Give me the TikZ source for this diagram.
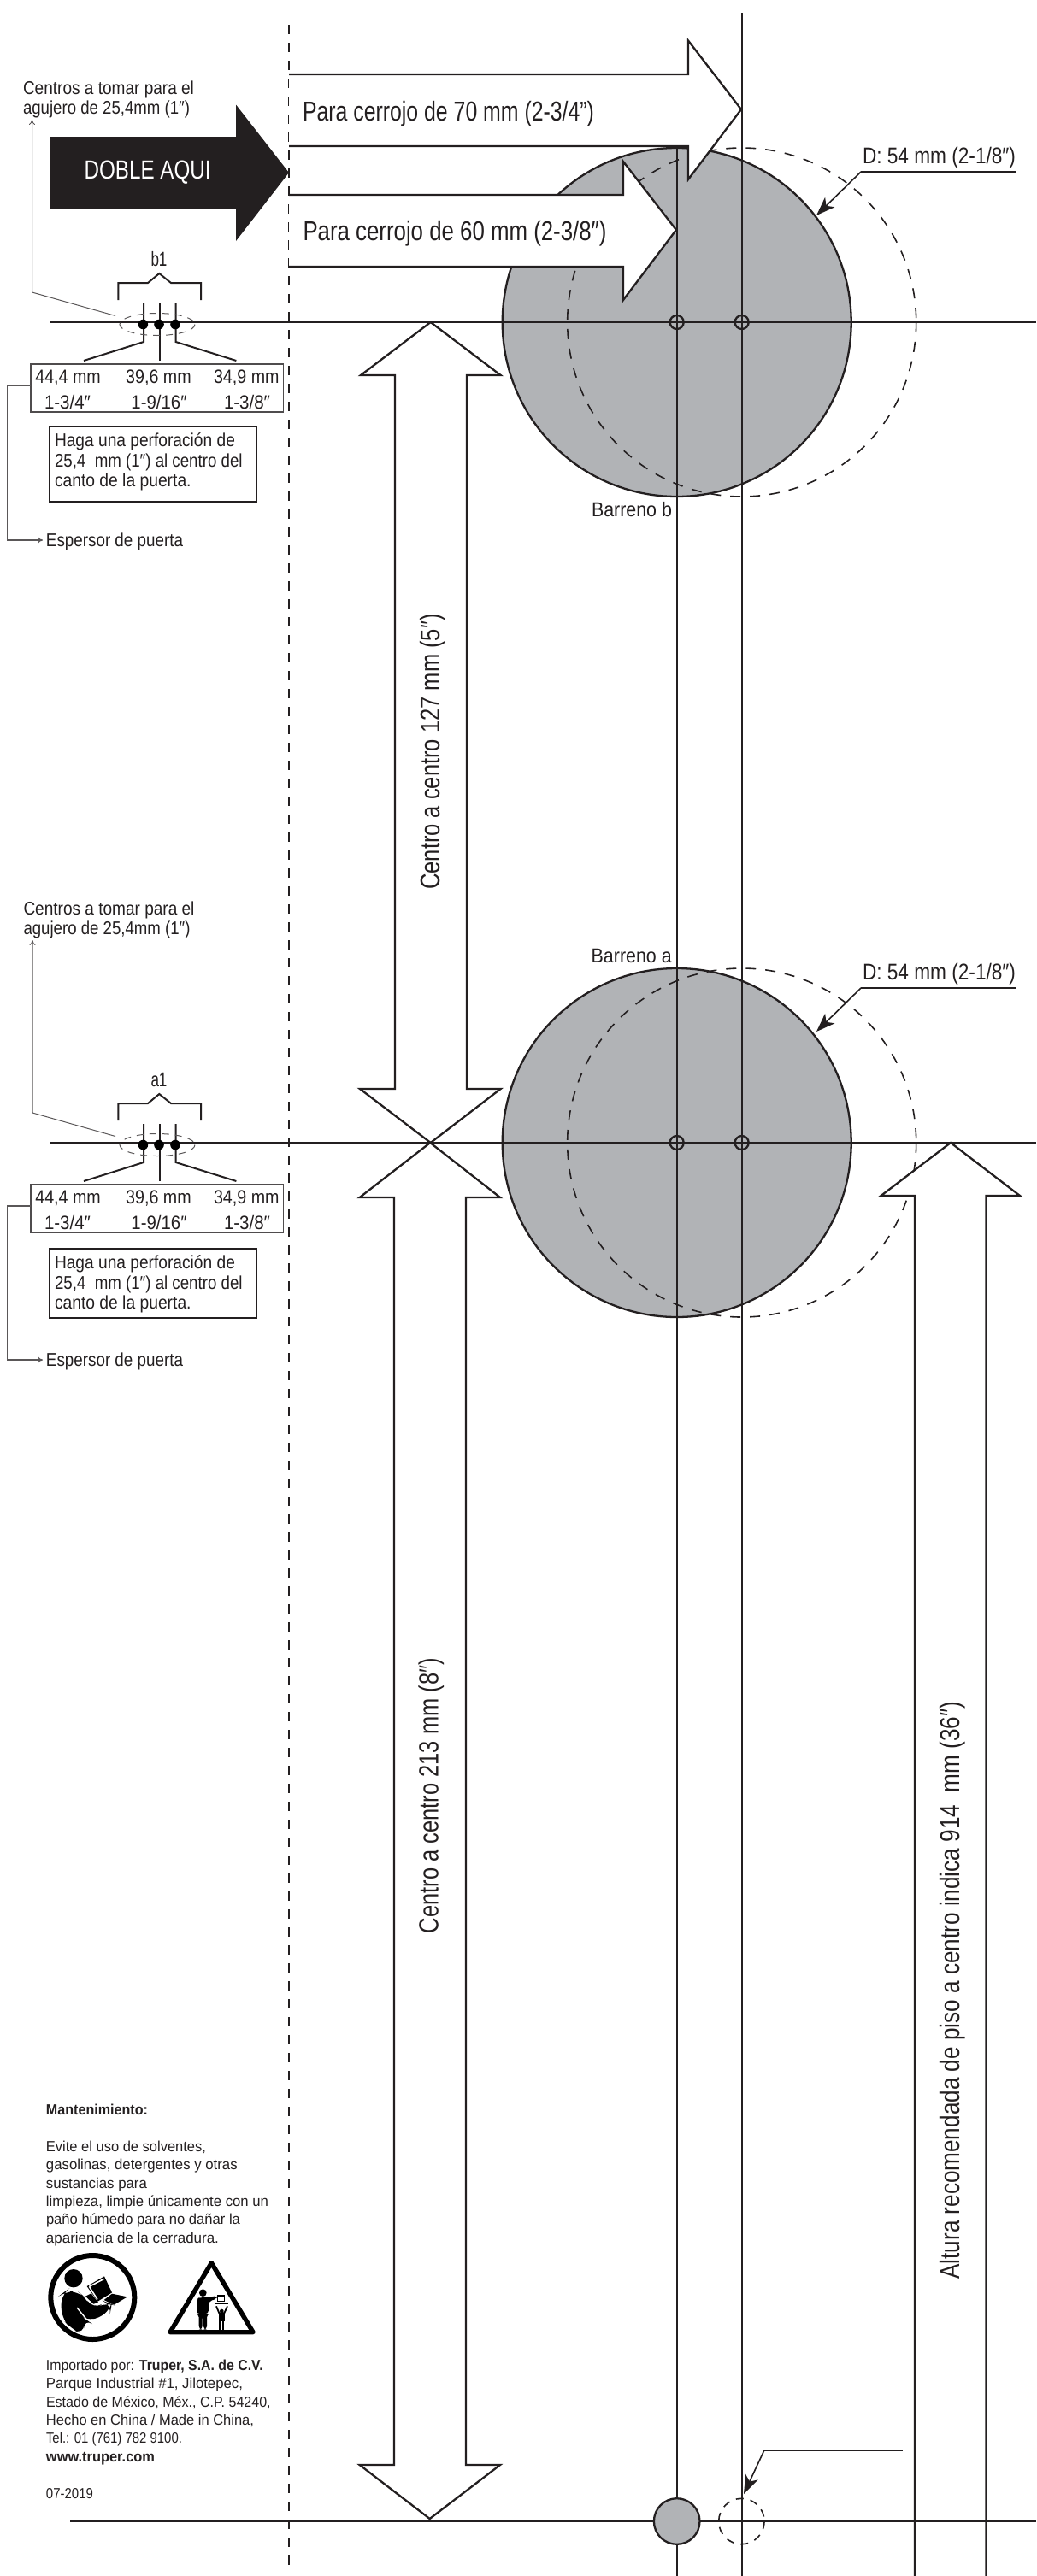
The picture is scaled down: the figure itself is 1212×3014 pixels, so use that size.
\documentclass[tikz,border=0pt]{standalone}
\usepackage{fontspec}
\usepackage{graphicx}
\setmainfont{Liberation Sans}
\usetikzlibrary{arrows.meta,shapes.geometric}
\definecolor{ink}{HTML}{231F20}
\definecolor{disc}{HTML}{B1B3B6}
\newdimen\unitpx \unitpx=0.5pt
\newcommand\fw[2]{\resizebox{#1\unitpx}{\height}{#2}}
\tikzset{
  txt/.style={inner sep=0pt,outer sep=0pt,anchor=base west,text=ink,font=\fontsize{#1}{#1}\selectfont},
  txt/.default=10.8,
  rot/.style={inner sep=0pt,outer sep=0pt,anchor=base,rotate=90,text=ink,font=\fontsize{16}{16}\selectfont},
  main/.style={draw=ink,line width=1.15pt},
  big/.style={draw=ink,fill=white,line width=1.15pt,line join=miter},
  dashc/.style={draw=ink,line width=0.8pt,dash pattern=on 6pt off 5.5pt},
  fold/.style={draw=ink,line width=1.1pt,dash pattern=on 5.5pt off 5pt},
  thinl/.style={draw=ink!75,line width=0.5pt},
  tick/.style={draw=ink,line width=1pt},
  leader/.style={draw=ink,line width=0.8pt,-{Stealth[length=11pt,width=8pt,inset=3pt]}},
  hole/.style={draw=ink,line width=0.8pt},
  dot/.style={fill=black,draw=none},
  boxb/.style={draw=ink!80,line width=0.6pt,inner sep=0pt,outer sep=0pt},
  boxh/.style={draw=ink,line width=0.9pt,inner sep=0pt,outer sep=0pt}
}
\begin{document}
\begin{tikzpicture}[x=0.5pt,y=-0.5pt]
\useasboundingbox (0,0) rectangle (1212,3014);
% discs
\foreach \cy in {377,1337}{
  \fill[disc] (791.7,\cy) circle[radius=204];
  \draw[main] (791.7,\cy) circle[radius=204];
  \draw[dashc] (867.7,\cy) circle[radius=204];
}
\fill[disc] (791.7,2950) circle[radius=26.8];
\draw[dashc,dash pattern=on 4.5pt off 4pt] (867.4,2950) circle[radius=26.7];
% construction lines
\draw[main] (791.7,172) -- (791.7,2923);
\draw[main] (791.7,2977) -- (791.7,3014);
\draw[main] (867.7,15) -- (867.7,3014);
\draw[main] (58,377) -- (1212,377);
\draw[main] (58,1337) -- (1212,1337);
\draw[main] (791.7,2950) circle[radius=26.8];
\foreach \cy in {377,1337}{
  \draw[main] (791.7,\cy) circle[radius=8];
  \draw[main] (867.7,\cy) circle[radius=8];
}
% fold line
\draw[fold] (338,29) -- (338,3004);
% black arrow
\fill[ink] (58,160) -- (276,160) -- (276,122.5) -- (338,202) -- (276,282) -- (276,244) -- (58,244) -- cycle;
\node[txt=15.4,text=white] (doble) at (98.6,209.6) {\fw{148}{DOBLE AQUI}};
% horizontal open arrows
\fill[white] (338,87) -- (805,87) -- (805,47.5) -- (867,128) -- (805,210) -- (805,171) -- (338,171) -- cycle;
\draw[big,fill=none] (338,87) -- (805,87) -- (805,47.5) -- (867,128) -- (805,210) -- (805,171) -- (338,171);
\fill[white] (338,228) -- (729,228) -- (729,189) -- (791,269) -- (729,351) -- (729,312) -- (338,312) -- cycle;
\draw[big,fill=none] (338,228) -- (729,228) -- (729,189) -- (791,269) -- (729,351) -- (729,312) -- (338,312);
\node[txt=16] (c70) at (354,141) {\fw{341}{Para cerrojo de 70 mm (2-3/4”)}};
\node[txt=16] (c60) at (354.5,281) {\fw{355}{Para cerrojo de 60 mm (2-3/8″)}};
% vertical double arrows
\draw[big] (503.7,377) -- (585.6,439) -- (546,439) -- (546,1274) -- (585.6,1274) -- (503.7,1337) -- (421,1274) -- (462,1274) -- (462,439) -- (422,439) -- cycle;
\draw[big] (503.2,1337) -- (585,1401) -- (545,1401) -- (545,2884) -- (585,2884) -- (502.7,2947) -- (420.7,2884) -- (461,2884) -- (461,1401) -- (420.7,1401) -- cycle;
\node[rot] (t127) at (514,879.5) {\fw{322.5}{Centro a centro 127 mm (5″)}};
\node[rot] (t213) at (512.7,2101) {\fw{322}{Centro a centro 213 mm (8″)}};
% floor arrow
\fill[white] (1070,3014) -- (1070,1399) -- (1030.5,1399) -- (1112,1337) -- (1193,1399) -- (1153.5,1399) -- (1153.5,3014) -- cycle;
\draw[big,fill=none] (1070,3014) -- (1070,1399) -- (1030.5,1399) -- (1112,1337) -- (1193,1399) -- (1153.5,1399) -- (1153.5,3014);
\node[rot] (t914) at (1122.5,2328.6) {\fw{676}{Altura recomendada de piso a centro indica 914\ \ mm (36″)}};
% floor line
\draw[main] (82,2950) -- (765,2950);
\draw[main] (818.5,2950) -- (1212,2950);
% diameter labels
\foreach \lab/\o in {b/0,a/955}{
  \node[txt=13.3] (dia\lab) at (1009,191.5+\o) {\fw{179}{D: 54 mm (2-1/8″)}};
  \coordinate (rule\lab) at (1188,201+\o);
  \coordinate (knee\lab) at (1007,201+\o);
  \coordinate (tip\lab) at (955,252+\o);
  \draw[main,line width=0.9pt] (rule\lab) -- (knee\lab);
  \draw[leader] (knee\lab) -- (tip\lab);
}
\node[txt=11.8] (barb) at (692,604) {\fw{94}{Barreno b}};
\node[txt=11.8] (bara) at (691.7,1126) {\fw{94}{Barreno a}};
% floor leader
\coordinate (flA) at (1055.7,2866.7);
\coordinate (flB) at (894,2866.7);
\coordinate (flC) at (870,2918);
\draw[main,line width=0.9pt] (flA) -- (flB);
\draw[leader] (flB) -- (flC);
% left-hand drilling groups
\foreach \g/\o/\dx/\hc/\hh/\ha/\hb/\hd/\es in {b/0/0/543/44/522/546/569.5/639,a/960/0.5/1501.3/40.4/1484/1508/1531/1598}{
  \node[txt] (cen\g) at (27+\dx,110+\o) {\fw{200}{Centros a tomar para el}};
  \node[txt] (agu\g) at (27+\dx,133+\o) {\fw{195}{agujero de 25,4mm (1″)}};
  \coordinate (la\g) at (135,369.5+\o);
  \coordinate (lb\g) at (37.5+\dx,342+\o);
  \coordinate (lc\g) at (37.5+\dx,140+\o);
  \draw[thinl,-{To[length=3pt,width=3.5pt]}] (la\g) -- (lb\g) -- (lc\g);
  \node[txt=11.8,anchor=base] (lab\g) at (186,311.5+\o) {\fw{19}{\g1}};
  % brace
  \draw[tick] (138.4,351+\o) -- (138.4,331+\o) -- (173,331+\o) -- (186.3,320+\o) -- (200,331+\o) -- (235,331+\o) -- (235,351+\o);
  % ticks
  \draw[tick] (168,355+\o) -- (168,400+\o) -- (98,422+\o);
  \draw[tick] (186.7,355+\o) -- (186.7,422+\o);
  \draw[tick] (205.6,355+\o) -- (205.6,400+\o) -- (276.4,422+\o);
  \draw[thinl,dash pattern=on 4pt off 3.5pt] (184,379.5+\o) ellipse[x radius=44,y radius=13];
  \foreach \px in {167.4,186,205}{ \fill[dot] (\px,379.5+\o) circle[radius=5.8]; }
  % dimensions box
  \node[boxb,minimum width=147.8pt,minimum height=28pt] (dim\g) at (183.8,454+\o) {};
  \foreach \cx/\m [count=\k] in {79.6/{44,4 mm},185.5/{39,6 mm},288.3/{34,9 mm}}{
    \node[txt=11.2,anchor=base] (mm\g\k) at (\cx,448+\o) {\fw{76.5}{\m}};
  }
  \node[txt=11.2,anchor=base] (in\g1) at (79,478+\o) {\fw{54}{1-3/4″}};
  \node[txt=11.2,anchor=base] (in\g2) at (186,478+\o) {\fw{65}{1-9/16″}};
  \node[txt=11.2,anchor=base] (in\g3) at (289,478+\o) {\fw{54}{1-3/8″}};
  % hole box
  \node[boxh,minimum width=121.2pt,minimum height=\hh pt] (hol\g) at (178.8,\hc) {};
  \node[txt] (ha\g) at (64,\ha) {\fw{211}{Haga una perforación de}};
  \node[txt] (hb\g) at (64,\hb) {\fw{219.6}{25,4\ \ mm (1″) al centro del}};
  \node[txt] (hd\g) at (64,\hd) {\fw{159.6}{canto de la puerta.}};
  % thickness leader
  \node[txt] (esp\g) at (54,\es) {\fw{160}{Espersor de puerta}};
  \coordinate (ea\g) at (8.7,451+\o);
  \coordinate (eb\g) at (8.7,\es-7);
  \coordinate (ec\g) at (50,\es-7);
  \draw[thinl,line width=0.6pt,-{To[length=3pt,width=3.5pt]}] ([yshift=1.5pt]dim\g.west) -- (ea\g) -- (eb\g) -- (ec\g);
}
% maintenance text
\node[txt=8.6,font=\fontsize{8.6}{8.6}\selectfont\bfseries] (mant) at (54,2474) {\fw{119}{Mantenimiento:}};
\foreach \y/\w/\s [count=\k] in {
  2517/187/{Evite el uso de solventes,},
  2538.5/223.7/{gasolinas, detergentes y otras},
  2560/118/{sustancias para},
  2581/260/{limpieza, limpie únicamente con un},
  2602.5/227/{paño húmedo para no dañar la},
  2624/202/{apariencia de la cerradura.},
  2773/253.7/{Importado por: \textbf{Truper, S.A. de C.V.}},
  2794.5/230/{Parque Industrial \#1, Jilotepec,},
  2816/262.7/{Estado de México, Méx., C.P. 54240,},
  2837/243/{Hecho en China / Made in China,},
  2858.5/159/{Tel.: 01 (761) 782 9100.},
  2880/127/{\textbf{www.truper.com}},
  2923/55/{07-2019}}{
  \node[txt=8.6] (fin\k) at (54,\y) {\fw{\w}{\s}};
}
% manual icon
\begin{scope}[shift={(50,2625)},scale=1/3]
  \draw[black,line width=3pt] (175,189) circle[radius=147];
  \fill[black] (108,122) circle[radius=32];
  \fill[black,rounded corners=6pt] (65,260) -- (65,178) -- (80,167) -- (122,167) -- (150,190) -- (176,231) -- (222,205) -- (242,213) -- (238,236) -- (165,276) -- (145,262) -- (145,320) -- (100,300) -- cycle;
  \draw[white,line width=0.7pt] (120,225) -- (152,264);
  \fill[black] (155,150) -- (216,115) -- (243,172) -- (193,203) -- cycle;
  \draw[white,line width=0.8pt] (163,151) -- (215,124);
  \draw[white,line width=0.8pt] (163,151) -- (192,196);
  \fill[black] (243,176) -- (297,187) -- (250,215) -- (215,198) -- cycle;
  \fill[black] (150,185) -- (170,175) -- (195,207) -- (178,212) -- cycle;
\end{scope}
% children warning icon
\begin{scope}[shift={(185,2630)},scale=1/3]
  \draw[black,line width=2.7pt,line join=round,fill=white] (187,53) -- (333,296) -- (42,296) -- cycle;
  \fill[black] (157,158) circle[radius=13];
  \fill[black,rounded corners=2pt] (135,232) -- (135,180) -- (145,174) -- (172,174) -- (208,168) -- (208,178) -- (177,188) -- (177,232) -- (171,232) -- (171,287) -- (159,287) -- (159,236) -- (155,236) -- (155,287) -- (143,287) -- (143,232) -- cycle;
  \draw[black,line width=0.6pt,fill=white] (208.5,168) rectangle (232,188);
  \fill[black] (200,193) rectangle (246,198);
  \fill[black] (223,222) circle[radius=7];
  \draw[black,line width=0.9pt] (204,205) -- (214,229) -- (232,229) -- (243,205);
  \fill[black] (213,228) rectangle (233,258);
  \fill[black] (214,255) rectangle (221,287);
  \fill[black] (225,255) rectangle (232,287);
\end{scope}
\end{tikzpicture}
\end{document}
